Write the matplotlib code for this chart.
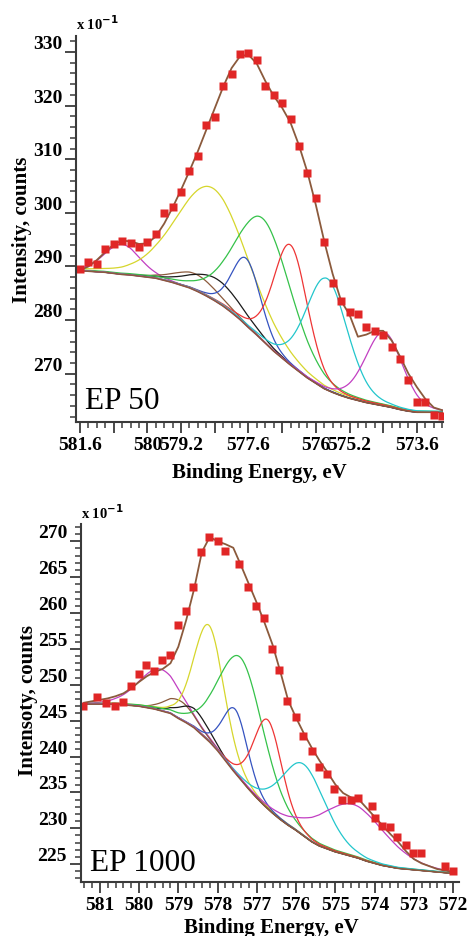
import numpy as np
import matplotlib.pyplot as plt
from matplotlib.ticker import MultipleLocator, FixedLocator, FixedFormatter

plt.rcParams['font.family'] = ['Liberation Serif', 'DejaVu Serif']

# ---- EP 50 ----
ep50_energy = [581.6, 581.4, 581.2, 581.0, 580.8, 580.6, 580.4, 580.2, 580.0, 579.8,
               579.6, 579.4, 579.2, 579.0, 578.8, 578.6, 578.4, 578.2, 578.0, 577.8,
               577.6, 577.4, 577.2, 577.0, 576.8, 576.6, 576.4, 576.2, 576.0, 575.8,
               575.6, 575.4, 575.2, 575.0, 574.8, 574.6, 574.4, 574.2, 574.0, 573.8,
               573.6, 573.4, 573.2, 573.0]
ep50_counts = [289.6, 290.9, 290.4, 293.3, 294.2, 294.7, 294.3, 293.6, 294.6, 296.0,
               300.0, 301.0, 303.8, 307.8, 310.6, 316.4, 317.9, 323.7, 325.9, 329.6,
               329.8, 328.5, 323.7, 321.9, 320.4, 317.5, 312.5, 307.4, 302.8, 294.6,
               287.0, 283.6, 281.5, 281.1, 278.8, 277.9, 277.3, 275.0, 272.8, 268.9,
               264.8, 264.8, 262.3, 262.2]
ep50_envelope = [289.3, 290.0, 291.2, 292.7, 294.1, 294.8, 294.7, 294.2, 294.3, 295.6,
                 298.0, 301.0, 304.3, 307.8, 311.5, 315.5, 319.5, 323.5, 327.0, 329.2,
                 329.5, 327.8, 324.6, 321.8, 319.6, 316.8, 312.6, 307.6, 301.5, 294.7,
                 288.6, 283.6, 281.0, 276.9, 277.3, 278.0, 278.0, 276.2, 273.2, 270.0,
                 267.5, 265.3, 263.7, 263.2]
ep50_background = [289.2, 289.1, 289.0, 288.9, 288.7, 288.5, 288.4, 288.2, 288.0, 287.8,
                   287.4, 287.0, 286.5, 286.0, 285.3, 284.5, 283.6, 282.6, 281.4, 280.1,
                   278.6, 277.2, 275.7, 274.2, 272.9, 271.6, 270.4, 269.2, 268.2, 267.2,
                   266.5, 265.9, 265.4, 265.0, 264.6, 264.3, 264.0, 263.7, 263.3, 263.0,
                   262.8, 262.8, 262.8, 262.8]
# fitted components: centre (eV), height above background, FWHM (eV)
ep50_centres = [580.6, 578.85, 578.35, 578.45, 577.65, 577.25, 576.6, 575.74, 574.38]
ep50_heights = [5.6, 3.1, 4.3, 20.8, 12.5, 22.8, 22.4, 20.8, 13.8]
ep50_fwhm = [1.0, 1.2, 1.45, 2.0, 0.8, 1.57, 0.95, 1.16, 1.05]
ep50_xticks = [581.6, 580.8, 580.0, 579.2, 578.4, 577.6, 576.8, 576.0, 575.2, 574.4, 573.6]
ep50_xlabels = ['581.6', '', '580', '579.2', '', '577.6', '', '576', '575.2', '', '573.6']
ep50_yticks = [270, 280, 290, 300, 310, 320, 330]

# ---- EP 1000 ----
ep1000_energy = [581.43, 581.06, 580.83, 580.62, 580.41, 580.21, 580.00, 579.83, 579.62, 579.41,
                 579.21, 579.02, 578.81, 578.62, 578.41, 578.21, 578.00, 577.80, 577.45, 577.22,
                 577.02, 576.82, 576.62, 576.43, 576.22, 576.00, 575.82, 575.60, 575.42, 575.22,
                 575.03, 574.82, 574.61, 574.41, 574.07, 574.00, 573.81, 573.61, 573.42, 573.21,
                 573.01, 572.82, 572.20, 572.00]
ep1000_counts = [247.1, 248.3, 247.5, 247.1, 247.6, 249.8, 251.5, 252.7, 251.9, 253.4,
                 254.1, 258.3, 260.3, 263.7, 268.5, 270.6, 270.1, 268.7, 266.8, 263.7,
                 261.0, 259.3, 255.0, 252.0, 247.7, 245.5, 242.9, 240.8, 238.5, 237.6,
                 235.4, 233.9, 234.0, 234.2, 233.1, 231.4, 230.3, 230.2, 228.8, 227.7,
                 226.6, 226.5, 224.8, 224.1]
ep1000_grid = [581.4, 581.2, 581.0, 580.8, 580.6, 580.4, 580.2, 580.0, 579.8, 579.6,
               579.4, 579.2, 579.0, 578.8, 578.6, 578.4, 578.2, 578.0, 577.8, 577.6,
               577.4, 577.2, 577.0, 576.8, 576.6, 576.4, 576.2, 576.0, 575.8, 575.6,
               575.4, 575.2, 575.0, 574.8, 574.6, 574.4, 574.2, 574.0, 573.8, 573.6,
               573.4, 573.2, 573.0, 572.8, 572.6, 572.4, 572.2, 572.0]
ep1000_envelope = [247.5, 247.7, 247.9, 248.1, 248.4, 248.8, 249.5, 250.4, 251.2, 251.8,
                   252.2, 253.0, 255.3, 259.0, 263.3, 268.5, 270.6, 270.0, 269.6, 269.1,
                   266.6, 264.0, 261.4, 258.6, 255.6, 251.8, 247.8, 245.4, 243.2, 241.2,
                   239.4, 237.8, 236.1, 234.9, 234.3, 234.0, 232.8, 231.6, 230.4, 229.2,
                   228.1, 226.8, 225.7, 225.1, 224.7, 224.3, 224.1, 223.9]
ep1000_background = [247.3, 247.3, 247.3, 247.3, 247.3, 247.2, 247.1, 247.0, 246.8, 246.6,
                     246.3, 246.0, 245.3, 244.7, 244.0, 243.0, 242.0, 240.8, 239.4, 238.0,
                     236.7, 235.4, 234.2, 233.1, 232.1, 231.2, 230.4, 229.7, 228.9, 228.1,
                     227.5, 227.1, 226.7, 226.4, 226.1, 225.8, 225.4, 225.1, 224.8, 224.6,
                     224.4, 224.3, 224.2, 224.1, 224.0, 223.9, 223.8, 223.7]
ep1000_centres = [579.45, 578.95, 578.6, 578.22, 577.55, 577.4, 576.72, 575.8, 574.55]
ep1000_heights = [5.8, 2.6, 2.7, 16.2, 8.9, 17.0, 12.4, 10.0, 7.3]
ep1000_fwhm = [1.3, 0.9, 0.9, 0.91, 0.75, 1.35, 0.85, 1.35, 2.0]
ep1000_xticks = [581, 580, 579, 578, 577, 576, 575, 574, 573, 572]
ep1000_xlabels = ['581', '580', '579', '578', '577', '576', '575', '574', '573', '572']
ep1000_yticks = [225, 230, 235, 240, 245, 250, 255, 260, 265, 270]

comp_colors = ['#c23fc2', '#8b5a3c', '#1a1a1a', '#d6d62c', '#3553c0',
               '#35c24a', '#ee3535', '#22c6cc', '#c23fc2']
line_brown = '#8b5a3c'
point_red = '#e02626'
axis_grey = '#3a3a3a'


def gl_peak(x, centre, height, fwhm, mix=0.2):
    d2 = (x - centre) ** 2 / fwhm ** 2
    gauss = np.exp(-4 * np.log(2) * d2)
    lorentz = 1.0 / (1.0 + 4 * d2)
    return height * ((1 - mix) * gauss + mix * lorentz)


def draw_panel(ax, grid, counts_e, counts, envelope, background,
               centres, heights, fwhms, label, ylabel):
    grid = np.asarray(grid)
    background = np.asarray(background)
    fine = np.linspace(grid.min(), grid.max(), 400)
    bg_fine = np.interp(fine, grid[::-1], background[::-1])
    for c, h, w, col in zip(centres, heights, fwhms, comp_colors):
        ax.plot(fine, bg_fine + gl_peak(fine, c, h, w), color=col, lw=0.9)
    ax.plot(grid, background, color=line_brown, lw=1.1)
    ax.plot(grid, envelope, color=line_brown, lw=1.3)
    ax.plot(counts_e, counts, 's', color=point_red, ms=5.8, mec='none')

    for side in ('top', 'right'):
        ax.spines[side].set_visible(False)
    for side in ('left', 'bottom'):
        ax.spines[side].set_color(axis_grey)
        ax.spines[side].set_linewidth(1.5)
    ax.tick_params(which='major', direction='out', length=8, width=1.3,
                   color=axis_grey, labelsize=14, pad=2)
    ax.tick_params(which='minor', direction='out', length=4.5, width=1.1,
                   color=axis_grey)
    for lab in ax.get_xticklabels() + ax.get_yticklabels():
        lab.set_fontweight('bold')
    for lab in ax.get_yticklabels():
        lab.set_va('bottom')

    ax.set_xlabel('Binding Energy, eV', fontsize=15, fontweight='bold')
    ax.set_ylabel(ylabel, fontsize=15, fontweight='bold')
    ax.text(0.0, 1.01, r'x 10$^{\mathbf{-1}}$', transform=ax.transAxes,
            fontsize=10.5, fontweight='bold', ha='left', va='bottom')
    ax.text(0.025, 0.035, label, transform=ax.transAxes, fontsize=22.5,
            ha='left', va='baseline')


fig = plt.figure(figsize=(4.67, 9.37), dpi=100)

ax1 = fig.add_axes([0.1627, 0.5486, 0.7859, 0.412])
ax1.set_xlim(581.695, 572.98)
ax1.set_ylim(261, 333)
ax1.xaxis.set_major_locator(FixedLocator(ep50_xticks))
ax1.xaxis.set_major_formatter(FixedFormatter(ep50_xlabels))
ax1.xaxis.set_minor_locator(MultipleLocator(0.2))
ax1.yaxis.set_minor_locator(MultipleLocator(2))
ax1.set_yticks(ep50_yticks)
draw_panel(ax1, ep50_energy, ep50_energy, ep50_counts, ep50_envelope,
           ep50_background, ep50_centres, ep50_heights, ep50_fwhm,
           'EP 50', 'Intensity, counts')
ax1.xaxis.set_label_coords(0.499, -0.105)
ax1.yaxis.set_label_coords(-0.12, 0.5)

ax2 = fig.add_axes([0.1734, 0.0576, 0.8094, 0.382])
ax2.set_xlim(581.48, 571.85)
ax2.set_ylim(222.5, 272.4)
ax2.xaxis.set_major_locator(FixedLocator(ep1000_xticks))
ax2.xaxis.set_major_formatter(FixedFormatter(ep1000_xlabels))
ax2.xaxis.set_minor_locator(MultipleLocator(0.2))
ax2.yaxis.set_minor_locator(MultipleLocator(1))
ax2.set_yticks(ep1000_yticks)
draw_panel(ax2, ep1000_grid, ep1000_energy, ep1000_counts, ep1000_envelope,
           ep1000_background, ep1000_centres, ep1000_heights, ep1000_fwhm,
           'EP 1000', 'Intensoty, counts')
ax2.xaxis.set_label_coords(0.503, -0.097)
ax2.yaxis.set_label_coords(-0.114, 0.51)

fig.savefig('out.png', dpi=100)
